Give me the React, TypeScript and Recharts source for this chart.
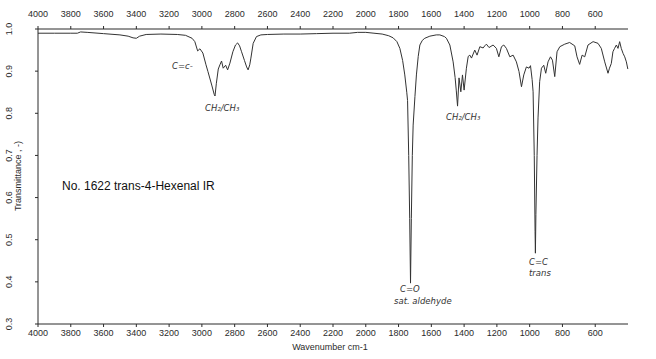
import { Line, LineChart, XAxis, YAxis } from "recharts";

// wavenumber (cm-1), high to low
const WAVENUMBERS = [
  4000, 3900, 3800, 3760, 3740, 3700, 3600, 3500, 3450, 3420, 3400, 3380, 3340, 3250, 3150, 3100,
  3060, 3043, 3026, 3012, 2994, 2975, 2963, 2940, 2925, 2920, 2912, 2900, 2890, 2880, 2870, 2855,
  2843, 2829, 2811, 2795, 2782, 2770, 2758, 2740, 2727, 2718, 2708, 2701, 2687, 2667, 2640, 2600,
  2500, 2400, 2300, 2200, 2100, 2050, 2000, 1950, 1900, 1860, 1833, 1810, 1792, 1775, 1762, 1750,
  1745, 1738, 1732, 1727, 1722, 1716, 1711, 1700, 1691, 1680, 1670, 1655, 1640, 1609, 1570, 1548,
  1520, 1508, 1487, 1467, 1455, 1448, 1440, 1431, 1420, 1410, 1400, 1386, 1375, 1365, 1355, 1335,
  1321, 1304, 1284, 1274, 1264, 1248, 1223, 1203, 1188, 1172, 1158, 1142, 1121, 1101, 1081, 1065,
  1050, 1036, 1020, 1004, 995, 985, 979, 972, 967, 965, 962, 955, 949, 939, 928, 914,
  902, 888, 873, 861, 847, 833, 816, 786, 756, 725, 711, 695, 680, 664, 644, 613,
  583, 563, 542, 522, 513, 502, 492, 482, 471, 461, 451, 441, 430, 420, 410, 401,
];

const TRANSMITTANCE = [
  0.99, 0.99, 0.99, 0.99, 0.993, 0.992, 0.989, 0.986, 0.983, 0.979, 0.978, 0.983, 0.987, 0.988, 0.987, 0.985,
  0.978, 0.97, 0.948, 0.953, 0.943, 0.915, 0.899, 0.867, 0.845, 0.841, 0.87, 0.905, 0.915, 0.924, 0.907, 0.914,
  0.903, 0.919, 0.946, 0.962, 0.967, 0.96, 0.946, 0.925, 0.91, 0.903, 0.915, 0.931, 0.966, 0.982, 0.986, 0.987,
  0.988, 0.988, 0.989, 0.99, 0.99, 0.992, 0.992, 0.99, 0.988, 0.984, 0.979, 0.97, 0.954, 0.925, 0.891, 0.85,
  0.83, 0.7, 0.55, 0.397, 0.55, 0.7, 0.772, 0.84, 0.891, 0.935, 0.962, 0.973, 0.978, 0.983, 0.986, 0.986,
  0.982, 0.978, 0.962, 0.922, 0.885, 0.855, 0.817, 0.884, 0.851, 0.891, 0.855, 0.907, 0.935, 0.938, 0.931, 0.95,
  0.938, 0.958, 0.955, 0.96, 0.964, 0.956, 0.962, 0.954, 0.934, 0.958, 0.962, 0.954, 0.934, 0.938, 0.922, 0.899,
  0.863, 0.891, 0.91, 0.907, 0.913, 0.88, 0.851, 0.7, 0.52, 0.468, 0.56, 0.7, 0.789, 0.875, 0.907, 0.914,
  0.895, 0.922, 0.934, 0.926, 0.887, 0.946, 0.958, 0.964, 0.968, 0.96, 0.934, 0.916, 0.938, 0.934, 0.962, 0.97,
  0.966, 0.954, 0.922, 0.895, 0.907, 0.918, 0.946, 0.954, 0.962, 0.954, 0.97, 0.954, 0.942, 0.934, 0.922, 0.905,
];

const X_TICKS = [4000, 3800, 3600, 3400, 3200, 3000, 2800, 2600, 2400, 2200, 2000, 1800, 1600, 1400, 1200, 1000, 800, 600];
const Y_TICKS = [0.3, 0.4, 0.5, 0.6, 0.7, 0.8, 0.9, 1.0];

const data = WAVENUMBERS.map((w, i) => ({ w, t: TRANSMITTANCE[i] }));

const INK = "#2b2b2b";
const FONT = "'Liberation Sans', Arial, sans-serif";
const HAND = "'DejaVu Sans', sans-serif";

function YTick({ y, payload }: any) {
  return (
    <text
      transform={`translate(12,${y}) rotate(-90)`}
      textAnchor="middle"
      fontSize={9}
      fontFamily={FONT}
      fill={INK}
    >
      {Number(payload.value).toFixed(1)}
    </text>
  );
}

function Note({ x, y, children }: { x: number; y: number; children: string }) {
  return (
    <text x={x} y={y} fontSize={8.5} fontFamily={HAND} fill="#333" fontStyle="italic">
      {children}
    </text>
  );
}

export default function App() {
  return (
    <div style={{ position: "absolute", left: 0, top: 0, width: 656, height: 359, background: "#fff" }}>
      <LineChart width={656} height={359} data={data} margin={{ top: 9, right: 28, bottom: 15, left: 8 }}>
        <XAxis
          xAxisId="bottom"
          dataKey="w"
          type="number"
          domain={[400, 4000]}
          reversed
          ticks={X_TICKS}
          height={20}
          tickSize={3}
          tickMargin={3}
          stroke={INK}
          tick={{ fontSize: 9, fill: INK, fontFamily: FONT }}
          interval={0}
        />
        <XAxis
          xAxisId="top"
          orientation="top"
          dataKey="w"
          type="number"
          domain={[400, 4000]}
          reversed
          ticks={X_TICKS}
          height={20}
          tickSize={3}
          tickMargin={9}
          stroke={INK}
          tick={{ fontSize: 9, fill: INK, fontFamily: FONT }}
          interval={0}
        />
        <YAxis
          yAxisId="left"
          type="number"
          domain={[0.3, 1.0]}
          ticks={Y_TICKS}
          width={30}
          tickSize={3}
          stroke={INK}
          tick={<YTick />}
          interval={0}
        />
        <YAxis yAxisId="right" orientation="right" width={0} tick={false} tickLine={false} stroke={INK} />
        <Line
          xAxisId="bottom"
          yAxisId="left"
          dataKey="t"
          type="linear"
          stroke="#333"
          strokeWidth={1}
          dot={false}
          isAnimationActive={false}
        />
        <text
          transform="translate(21,176) rotate(-90)"
          textAnchor="middle"
          fontSize={9}
          fontFamily={FONT}
          fill={INK}
        >
          Transmittance , -)
        </text>
        <text x={330} y={350} textAnchor="middle" fontSize={9} fontFamily={FONT} fill={INK}>
          Wavenumber cm-1
        </text>
        <text x={62} y={190} fontSize={12} fontFamily={FONT} fill="#111">
          No. 1622 trans-4-Hexenal IR
        </text>
        <Note x={172} y={69}>C=c-</Note>
        <Note x={205} y={111}>CH₂/CH₃</Note>
        <Note x={446} y={120}>CH₂/CH₃</Note>
        <Note x={400} y={292}>C=O</Note>
        <Note x={394} y={304}>sat. aldehyde</Note>
        <Note x={529} y={265}>C=C</Note>
        <Note x={529} y={276}>trans</Note>
      </LineChart>
    </div>
  );
}
